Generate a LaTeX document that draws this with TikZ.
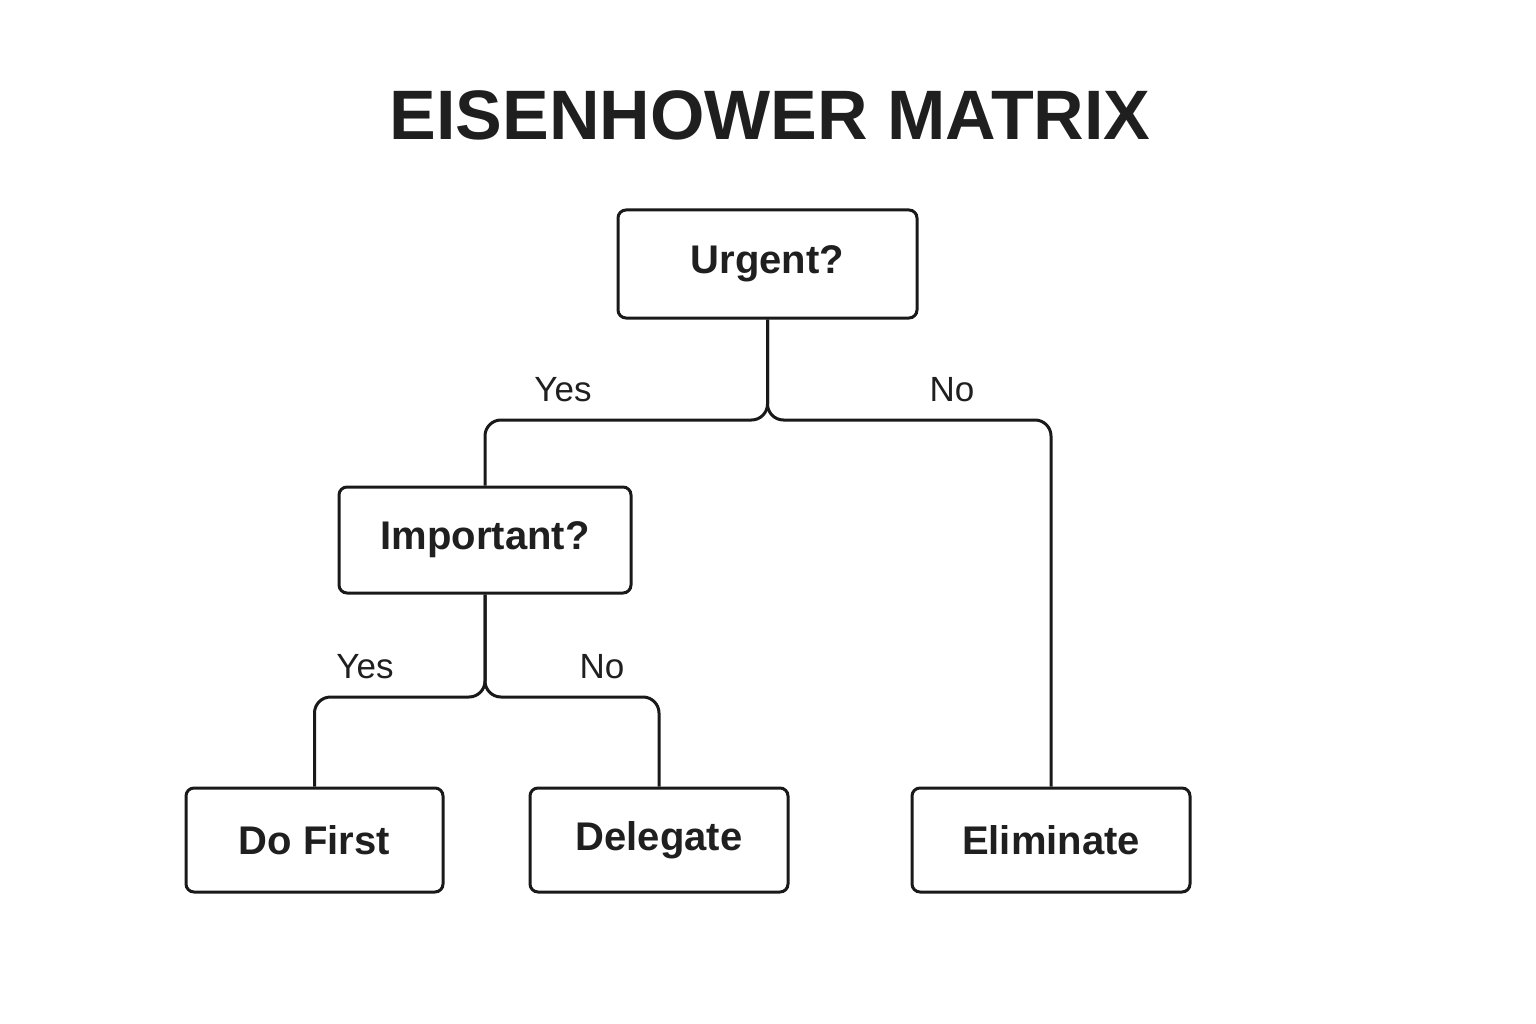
\documentclass[tikz,border=0pt]{standalone}
\usepackage{fontspec}
\setmainfont{Liberation Sans}
\begin{document}
\begin{tikzpicture}[x=1pt,y=-1pt,
  box/.style={draw=black!90,line width=3pt,rounded corners=8pt,inner sep=0pt,font=\fontsize{40}{48}\selectfont\bfseries,text=black!88},
  conn/.style={draw=black!90,line width=3pt,rounded corners=16pt},
  lbl/.style={font=\fontsize{35}{42}\selectfont,text=black!88}]
\useasboundingbox (0,0) rectangle (1536,1024);
\node[font=\fontsize{70}{84}\selectfont\bfseries,text=black!88] (title) at (770,115) {EISENHOWER MATRIX};
\node[box,minimum width=299pt,minimum height=108pt] (u) at (767.5,264) {Urgent?};
\node[box,minimum width=292pt,minimum height=106pt] (imp) at (485,540) {Important?};
\node[box,minimum width=257pt,minimum height=104pt] (df) at (314.5,840) {Do First};
\node[box,minimum width=258pt,minimum height=104pt] (dg) at (659,840) {Delegate};
\node[box,minimum width=278pt,minimum height=104pt] (el) at (1051,840) {Eliminate};
\coordinate (j1) at (767.5,420);
\coordinate (j2) at (485,697);
\draw[conn] (u.south) -- (j1) -| (imp.north);
\draw[conn] (u.south) -- (j1) -| (el.north);
\draw[conn] (imp.south) -- (j2) -| (df.north);
\draw[conn] (imp.south) -- (j2) -| (dg.north);
\node[lbl] (l1) at (563,390) {Yes};
\node[lbl] (l2) at (952,390) {No};
\node[lbl] (l3) at (365,667) {Yes};
\node[lbl] (l4) at (602,667) {No};
\end{tikzpicture}
\end{document}
